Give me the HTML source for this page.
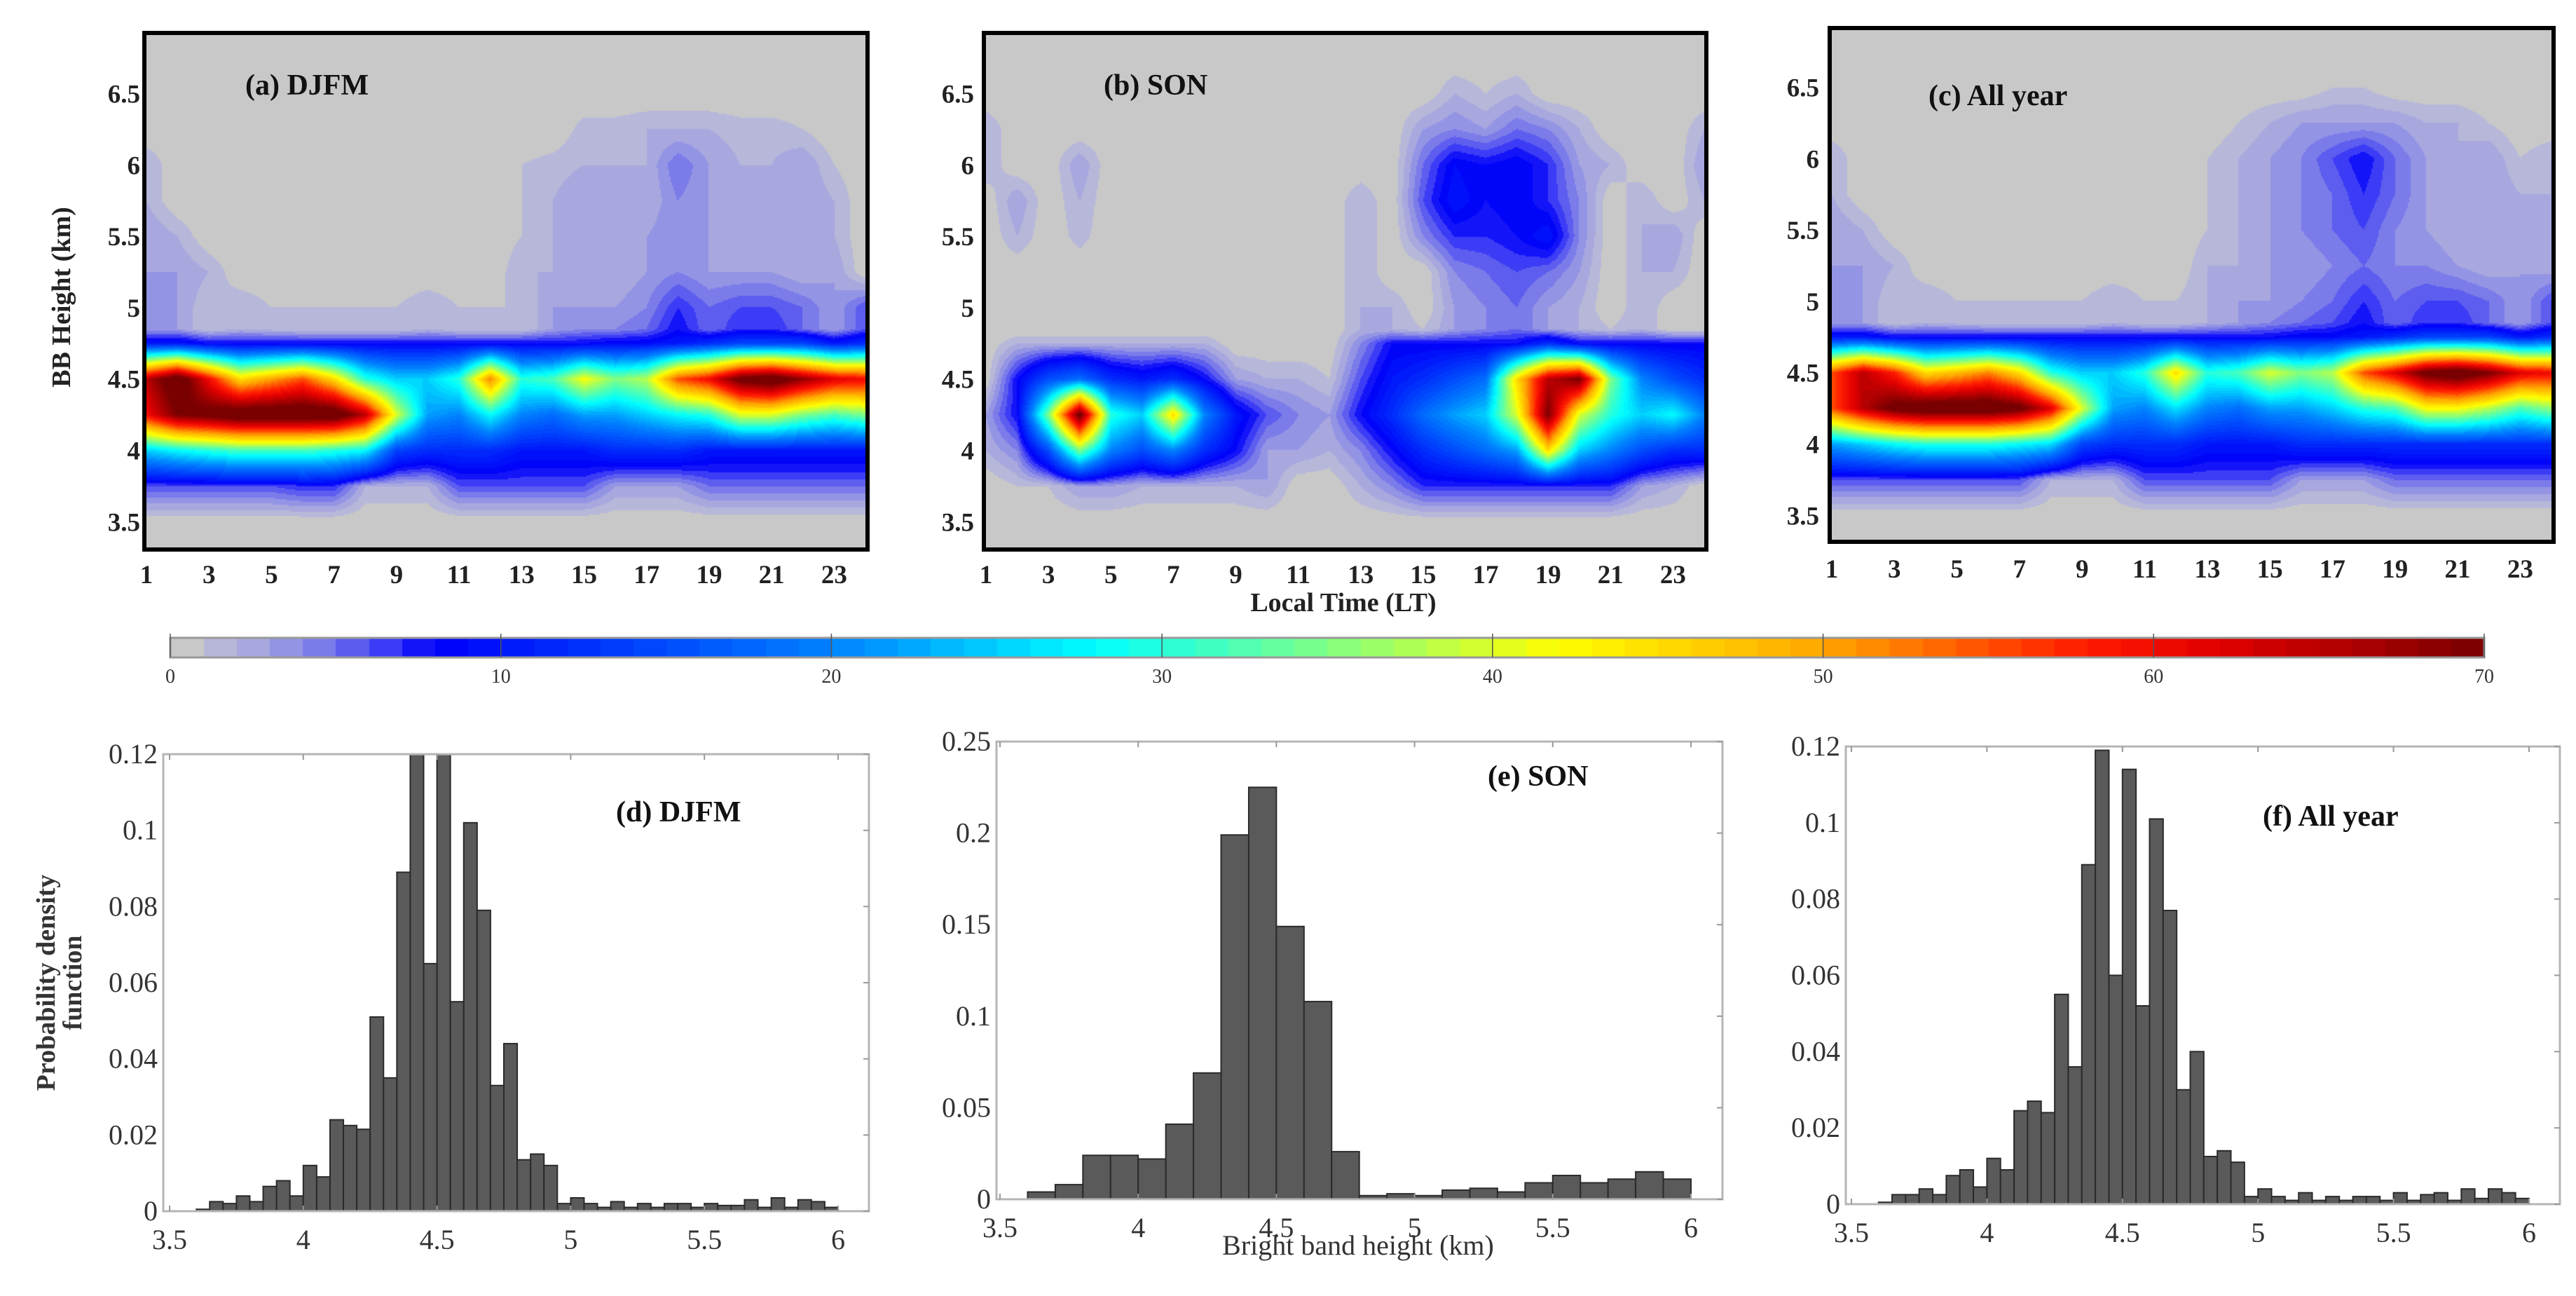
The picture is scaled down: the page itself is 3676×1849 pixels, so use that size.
<!DOCTYPE html>
<html><head><meta charset="utf-8">
<style>
html,body{margin:0;padding:0;background:#fff;}
#root{position:relative;width:3676px;height:1849px;overflow:hidden;background:#fff;}
canvas{position:absolute;}
svg{position:absolute;left:0;top:0;}
</style></head>
<body>
<div id="root">
<canvas id="hmA"></canvas>
<canvas id="hmB"></canvas>
<canvas id="hmC"></canvas>
<canvas id="cbar"></canvas>
<svg id="ov" width="3676" height="1849" font-family="'Liberation Serif', serif"></svg>
</div>
<script>
// ---------- Heatmap data (rows = heights, columns = local time 1..24) ----------
const hmHeights = [3.5,3.75,4.0,4.25,4.5,4.75,4.85,5.0,5.25,5.5,5.75,6.0,6.25,6.5,6.75];
const hmHours = [1,2,3,4,5,6,7,8,9,10,11,12,13,14,15,16,17,18,19,20,21,22,23,24];
const hmDJFM = [
 [0,0,0,0,0,0,0,0,0,0,0,0,0,0,0,0,0,0,0,0,0,0,0,0],
 [6,6,6,6,6,7,7,2,2,2,6,6,6,6,6,3,3,3,5,5,5,5,5,5],
 [25,28,30,32,32,32,30,28,14,12,12,12,10,10,10,12,12,12,10,10,10,10,10,10],
 [60,70,72,75,75,75,75,65,40,22,20,28,20,18,22,22,25,28,30,40,40,35,32,35],
 [65,75,60,45,50,55,45,30,25,25,30,52,30,32,42,35,38,55,60,72,75,68,62,60],
 [10,10,8,8,8,8,8,8,8,8,8,8,8,8,8,9,9,10,12,14,14,14,10,12],
 [3,3,1,2,1.5,1,1,1,1,2,1,1,1,3,4,4,5,8,5,7,7,5,3,6],
 [3,3,1,2,1,1,1,1,1,2,1,1,1,3,3,3,4,7,5,6,6,5,3,6],
 [3,3,2,0,0,0,0,0,0,0,0,0,2,2,2,2,3,4,3,3,3,2,3,0],
 [3,2,0,0,0,0,0,0,0,0,0,0,1,2,3,3,3,4,3,2,2,3,2,0],
 [2,0,0,0,0,0,0,0,0,0,0,0,1,2,3,2,2,4,3,2,2,3,2,0],
 [2,0,0,0,0,0,0,0,0,0,0,0,1,1.5,2,2,2,5,3,2,2,3,1,0],
 [0,0,0,0,0,0,0,0,0,0,0,0,0,0,1.5,1.5,2,2,2,1.5,1.5,1,0,0],
 [0,0,0,0,0,0,0,0,0,0,0,0,0,0,0,0,0,0,0,0,0,0,0,0],
 [0,0,0,0,0,0,0,0,0,0,0,0,0,0,0,0,0,0,0,0,0,0,0,0]
];
const hmSON = [
 [0,0,0,0,0,0,0,0,0,0,0,0,0,0,0,0,0,0,0,0,0,0,0,0],
 [0,1,1,3,3,2,2,2,2,3,0,0,2,4,7,7,7,7,7,7,7,3,2,0],
 [2,4,15,35,20,15,20,12,8,3,3,2,4,8,12,15,18,22,45,25,20,15,12,12],
 [3,8,35,72,30,25,45,20,10,6,4,3,8,12,18,22,25,40,70,40,30,25,28,20],
 [0,8,15,18,12,10,12,8,3,2,2,1,6,10,12,15,18,45,65,70,35,20,15,12],
 [0,2,2,2,2,2,2,2,0,0,0,0,4,8,8,8,8,8,12,8,8,8,8,8],
 [0,0,0,0,0,0,0,0,0,0,0,0,2,2,1,3,4,5,3,2,1,2,0,0],
 [0,0,0,0,0,0,0,0,0,0,0,0,2,2,0,3,4,5,3,2,0,2,0,0],
 [0,0,0,0,0,0,0,0,0,0,0,0,2,0,0,4,5,6,5,3,0,2,2,0],
 [0,2,0,1.5,0,0,0,0,0,0,0,0,2,0,4,7,7,8,10,4,0,2,3,0],
 [0,3,0,2,0,0,0,0,0,0,0,0,2,0,6,10,8,9,7,4,0,2,0,2],
 [2,0,0,3,0,0,0,0,0,0,0,0,0,0,5,9,8,9,7,3,2,0,0,3],
 [2,0,0,0,0,0,0,0,0,0,0,0,0,0,3,4,3,5,4,2,0,0,0,2],
 [0,0,0,0,0,0,0,0,0,0,0,0,0,0,0,2,1,2,0,0,0,0,0,0],
 [0,0,0,0,0,0,0,0,0,0,0,0,0,0,0,0,0,0,0,0,0,0,0,0]
];
const hmAll = [
 [0,0,0,0,0,0,0,0,0,0,0,0,0,0,0,0,0,0,0,0,0,0,0,0],
 [6,6,6,6,6,6,6,2,2,2,6,6,6,6,6,3,3,3,5,5,5,5,5,5],
 [22,25,28,30,30,30,28,26,14,12,12,12,10,10,10,12,12,12,12,12,12,12,12,12],
 [55,65,72,75,75,75,72,62,40,22,20,26,20,18,22,22,25,30,32,42,42,38,32,36],
 [55,65,58,45,48,52,45,30,25,25,30,45,30,32,40,35,38,55,62,72,75,70,62,60],
 [10,10,8,8,8,8,8,8,8,8,8,8,8,8,8,9,9,10,12,14,14,14,10,12],
 [3,3,1,2,1.5,1,1,1,1,2,1,1,2,3,4,5,6,8,5,7,7,5,3,6],
 [3,3,1,2,1,1,1,1,1,2,1,1,2,3,3,4,5,7,5,6,6,5,3,6],
 [3,3,2,0,0,0,0,0,0,0,0,0,2,2,3,3,4,5,4,4,3,2,3,2],
 [3,2,0,0,0,0,0,0,0,0,0,0,1,2,3,4,5,6,4,3,2,3,3,2],
 [2,0,0,0,0,0,0,0,0,0,0,0,1,2,3,4,5,7,5,3,2,3,2,2],
 [2,0,0,0,0,0,0,0,0,0,0,0,1,2,3,4,6,8,5,3,2,3,1,2],
 [0,0,0,0,0,0,0,0,0,0,0,0,0,1,2,3,3,3,3,2,2,1,0,0],
 [0,0,0,0,0,0,0,0,0,0,0,0,0,0,0,0,1,1,0,0,0,0,0,0],
 [0,0,0,0,0,0,0,0,0,0,0,0,0,0,0,0,0,0,0,0,0,0,0,0]
];
const hmXTicks = [1,3,5,7,9,11,13,15,17,19,21,23];
const hmYTicks = [3.5,4,4.5,5,5.5,6,6.5];
const cbTicks = [0,10,20,30,40,50,60,70];

// ---------- Histogram data ----------
const histDStart = 3.6, histDWidth = 0.05;
const histDJFM = [0.0005,0.0025,0.002,0.004,0.0025,0.0065,0.008,0.004,0.012,0.009,0.024,0.0225,0.0215,0.051,0.035,0.089,0.13,0.065,0.13,0.055,0.102,0.079,0.033,0.044,0.0135,0.015,0.012,0.002,0.0035,0.002,0.001,0.0025,0.001,0.002,0.001,0.002,0.002,0.001,0.002,0.0015,0.0015,0.003,0.001,0.0035,0.001,0.003,0.0025,0.001];
const histEStart = 3.6, histEWidth = 0.1;
const histSON = [0.004,0.008,0.024,0.024,0.022,0.041,0.069,0.199,0.225,0.149,0.108,0.026,0.002,0.003,0.002,0.005,0.006,0.004,0.009,0.013,0.009,0.011,0.015,0.011];
const histFStart = 3.6, histFWidth = 0.05;
const histAll = [0.0005,0.0025,0.0025,0.004,0.0025,0.0075,0.009,0.0045,0.012,0.009,0.0245,0.027,0.024,0.055,0.036,0.089,0.119,0.060,0.114,0.052,0.101,0.077,0.030,0.040,0.0125,0.014,0.011,0.002,0.004,0.002,0.001,0.003,0.001,0.002,0.001,0.002,0.002,0.001,0.003,0.001,0.0025,0.003,0.001,0.004,0.0015,0.004,0.003,0.0015];
const histXTicks = [3.5,4,4.5,5,5.5,6];
const histYTicks012 = [0,0.02,0.04,0.06,0.08,0.1,0.12];
const histYTicks025 = [0,0.05,0.1,0.15,0.2,0.25];

// ---------- colormap ----------
const cmStops = [[0,[200,200,200]],[1,[200,200,200]],[1.01,[190,190,216]],[3,[160,160,226]],[5,[110,110,236]],[6.5,[60,60,246]],[8,[0,0,250]],[20,[0,130,255]],[28,[0,255,255]],[34,[110,255,150]],[42,[255,255,0]],[50,[255,165,0]],[58,[255,25,0]],[62,[225,0,0]],[70,[120,0,0]]];
function cmap(v){
  v=Math.max(0,Math.min(70,v));
  for(let i=1;i<cmStops.length;i++){
    if(v<=cmStops[i][0]){
      const a=cmStops[i-1],b=cmStops[i];const t=(v-a[0])/(b[0]-a[0]||1);
      return [0,1,2].map(k=>Math.round(a[1][k]+(b[1][k]-a[1][k])*t));
    }
  }
  return cmStops[cmStops.length-1][1];
}
function interp(grid,hr,h){
  const H=hmHeights;
  let x=Math.max(0,Math.min(23,hr-1));
  let y;
  if(h<=H[0]) y=0; else if(h>=H[H.length-1]) y=H.length-1;
  else { for(let i=0;i<H.length-1;i++){ if(h<=H[i+1]){ y=i+(h-H[i])/(H[i+1]-H[i]); break; } } }
  const x0=Math.floor(x),x1=Math.min(23,x0+1),y0=Math.floor(y),y1=Math.min(H.length-1,y0+1);
  const fx=x-x0,fy=y-y0;
  const a=grid[y0][x0]*(1-fx)+grid[y0][x1]*fx;
  const b=grid[y1][x0]*(1-fx)+grid[y1][x1]*fx;
  return a*(1-fy)+b*fy;
}

const NS='http://www.w3.org/2000/svg';
const ov=document.getElementById('ov');
function el(tag,attrs,parent){const e=document.createElementNS(NS,tag);for(const k in attrs)e.setAttribute(k,attrs[k]);(parent||ov).appendChild(e);return e;}
function txt(s,attrs,parent){const e=el('text',attrs,parent);e.textContent=s;return e;}

// ---------- heatmap panels ----------
const hmPanels=[
 {id:'hmA',grid:hmDJFM,fx0:206,fx1:1238,fy0:47,fy1:784,ylo:3.32,yhi:6.91,title:'(a) DJFM',tx:350,ty:135,ylab:200,xlaby:832,name:'djfm'},
 {id:'hmB',grid:hmSON,fx0:1404,fx1:2435,fy0:47,fy1:784,ylo:3.32,yhi:6.91,title:'(b) SON',tx:1575,ty:135,ylab:1390,xlaby:832,name:'son'},
 {id:'hmC',grid:hmAll,fx0:2611,fx1:3644,fy0:40,fy1:773,ylo:3.33,yhi:6.90,title:'(c) All year',tx:2752,ty:150,ylab:2596,xlaby:824,name:'all-year'}
];
hmPanels.forEach(p=>{
  const bw=6;
  const ix0=p.fx0+bw/2, ix1=p.fx1-bw/2, iy0=p.fy0+bw/2, iy1=p.fy1-bw/2;
  const W=Math.round(ix1-ix0),Ht=Math.round(iy1-iy0);
  const xs=v=>ix0+(v-1)/23*(ix1-ix0);
  const ys=v=>iy1-(v-p.ylo)/(p.yhi-p.ylo)*(iy1-iy0);
  const cv=document.getElementById(p.id);
  cv.width=W;cv.height=Ht;cv.style.left=ix0+'px';cv.style.top=iy0+'px';
  const ctx=cv.getContext('2d');
  const img=ctx.createImageData(W,Ht);
  const B=2;
  for(let py=0;py<Ht;py+=B){
    const h=p.yhi-(py+B/2)/Ht*(p.yhi-p.ylo);
    for(let px=0;px<W;px+=B){
      const hr=1+(px+B/2)/W*23;
      const v=Math.floor(interp(p.grid,hr,h));
      const c=cmap(v+0.5);
      for(let dy=0;dy<B&&py+dy<Ht;dy++)for(let dx=0;dx<B&&px+dx<W;dx++){
        const o=((py+dy)*W+px+dx)*4;img.data[o]=c[0];img.data[o+1]=c[1];img.data[o+2]=c[2];img.data[o+3]=255;
      }
    }
  }
  ctx.putImageData(img,0,0);
  const g=el('g',{});
  
  
  const fr=el('rect',{x:p.fx0,y:p.fy0,width:p.fx1-p.fx0,height:p.fy1-p.fy0,fill:'none',stroke:'#000','stroke-width':bw},g);
  
  
  hmXTicks.forEach(t=>{
    const e=txt(String(t),{x:xs(t),y:p.xlaby,'font-size':37,'font-weight':'bold','text-anchor':'middle',fill:'#222'},g);
    
    
  });
  hmYTicks.forEach(t=>{
    const e=txt(String(t),{x:p.ylab,y:ys(t)+13,'font-size':37,'font-weight':'bold','text-anchor':'end',fill:'#222'},g);
    
    
  });
  const tt=txt(p.title,{x:p.tx,y:p.ty,'font-size':42,'font-weight':'bold',fill:'#111'},g);
  
  
});
const yt=txt('BB Height (km)',{x:0,y:0,'font-size':38,'font-weight':'bold','text-anchor':'middle',fill:'#222',transform:'translate(100,424) rotate(-90)'});


const xt=txt('Local Time (LT)',{x:1917,y:872,'font-size':38,'font-weight':'bold','text-anchor':'middle',fill:'#222'});



// ---------- colorbar ----------
(function(){
  const cx0=243,cx1=3545,cy0=910,cy1=938;
  const cv=document.getElementById('cbar');
  cv.width=cx1-cx0;cv.height=cy1-cy0;cv.style.left=cx0+'px';cv.style.top=cy0+'px';
  const ctx=cv.getContext('2d');
  for(let px=0;px<cv.width;px++){
    const v=Math.floor(px/cv.width*70);
    const c=cmap(v+0.5);
    ctx.fillStyle='rgb('+c.join(',')+')';ctx.fillRect(px,0,1,cv.height);
  }
  const cs=v=>cx0+v/70*(cx1-cx0);
  const fr=el('rect',{x:cx0,y:cy0,width:cx1-cx0,height:cy1-cy0,fill:'none',stroke:'#999','stroke-width':3});
  
  
  cbTicks.forEach(t=>{
    const l=el('line',{x1:cs(t),x2:cs(t),y1:cy0-6,y2:cy1,stroke:'#555','stroke-width':1.5});
    
    
    const e=txt(String(t),{x:cs(t),y:974,'font-size':28,'text-anchor':'middle',fill:'#333'});
    
    
  });
})();

// ---------- histograms ----------
const hists=[
 {vals:histDJFM,start:histDStart,w:histDWidth,bx0:233,bx1:1240,by0:1076,by1:1728,x35:242,x6:1196,ymax:0.12,yt:histYTicks012,title:'(d) DJFM',tx:879,ty:1172,name:'djfm'},
 {vals:histSON,start:histEStart,w:histEWidth,bx0:1422,bx1:2458,by0:1058,by1:1711,x35:1427,x6:2413,ymax:0.25,yt:histYTicks025,title:'(e) SON',tx:2123,ty:1121,name:'son'},
 {vals:histAll,start:histFStart,w:histFWidth,bx0:2634,bx1:3653,by0:1065,by1:1718,x35:2642,x6:3609,ymax:0.12,yt:histYTicks012,title:'(f) All year',tx:3229,ty:1178,name:'all-year'}
];
hists.forEach(h=>{
  const xs=v=>h.x35+(v-3.5)/2.5*(h.x6-h.x35);
  const ys=v=>h.by1-Math.min(v,h.ymax)/h.ymax*(h.by1-h.by0);
  const g=el('g',{});
  
  
  h.vals.forEach((v,i)=>{
    const a=h.start+i*h.w,b=a+h.w;
    const r=el('rect',{x:xs(a),y:ys(v),width:xs(b)-xs(a),height:h.by1-ys(v),fill:'#5a5a5a',stroke:'#2a2a2a','stroke-width':2},g);
    
    
  });
  const fr=el('rect',{x:h.bx0,y:h.by0,width:h.bx1-h.bx0,height:h.by1-h.by0,fill:'none',stroke:'#b5b5b5','stroke-width':3},g);
  
  
  histXTicks.forEach(t=>{
    el('line',{x1:xs(t),x2:xs(t),y1:h.by1,y2:h.by1-8,stroke:'#999','stroke-width':2},g);
    el('line',{x1:xs(t),x2:xs(t),y1:h.by0,y2:h.by0+8,stroke:'#999','stroke-width':2},g);
    const e=txt(String(t),{x:xs(t),y:h.by1+54,'font-size':40,'text-anchor':'middle',fill:'#333'},g);
    
    
  });
  h.yt.forEach(t=>{
    el('line',{x1:h.bx1,x2:h.bx1-8,y1:ys(t),y2:ys(t),stroke:'#999','stroke-width':2},g);
    const e=txt(String(t),{x:h.bx0-8,y:ys(t)+13,'font-size':40,'text-anchor':'end',fill:'#333'},g);
    
    
  });
  const tt=txt(h.title,{x:h.tx,y:h.ty,'font-size':42,'font-weight':'bold',fill:'#111'},g);
  
  
});
const py1=txt('Probability density',{x:0,y:0,'font-size':38,'font-weight':'bold','text-anchor':'middle',fill:'#333',transform:'translate(78,1402) rotate(-90)'});


const py2=txt('function',{x:0,y:0,'font-size':38,'font-weight':'bold','text-anchor':'middle',fill:'#333',transform:'translate(116,1402) rotate(-90)'});


const bx=txt('Bright band height (km)',{x:1938,y:1790,'font-size':40,'text-anchor':'middle',fill:'#333'});


</script>
</body></html>
